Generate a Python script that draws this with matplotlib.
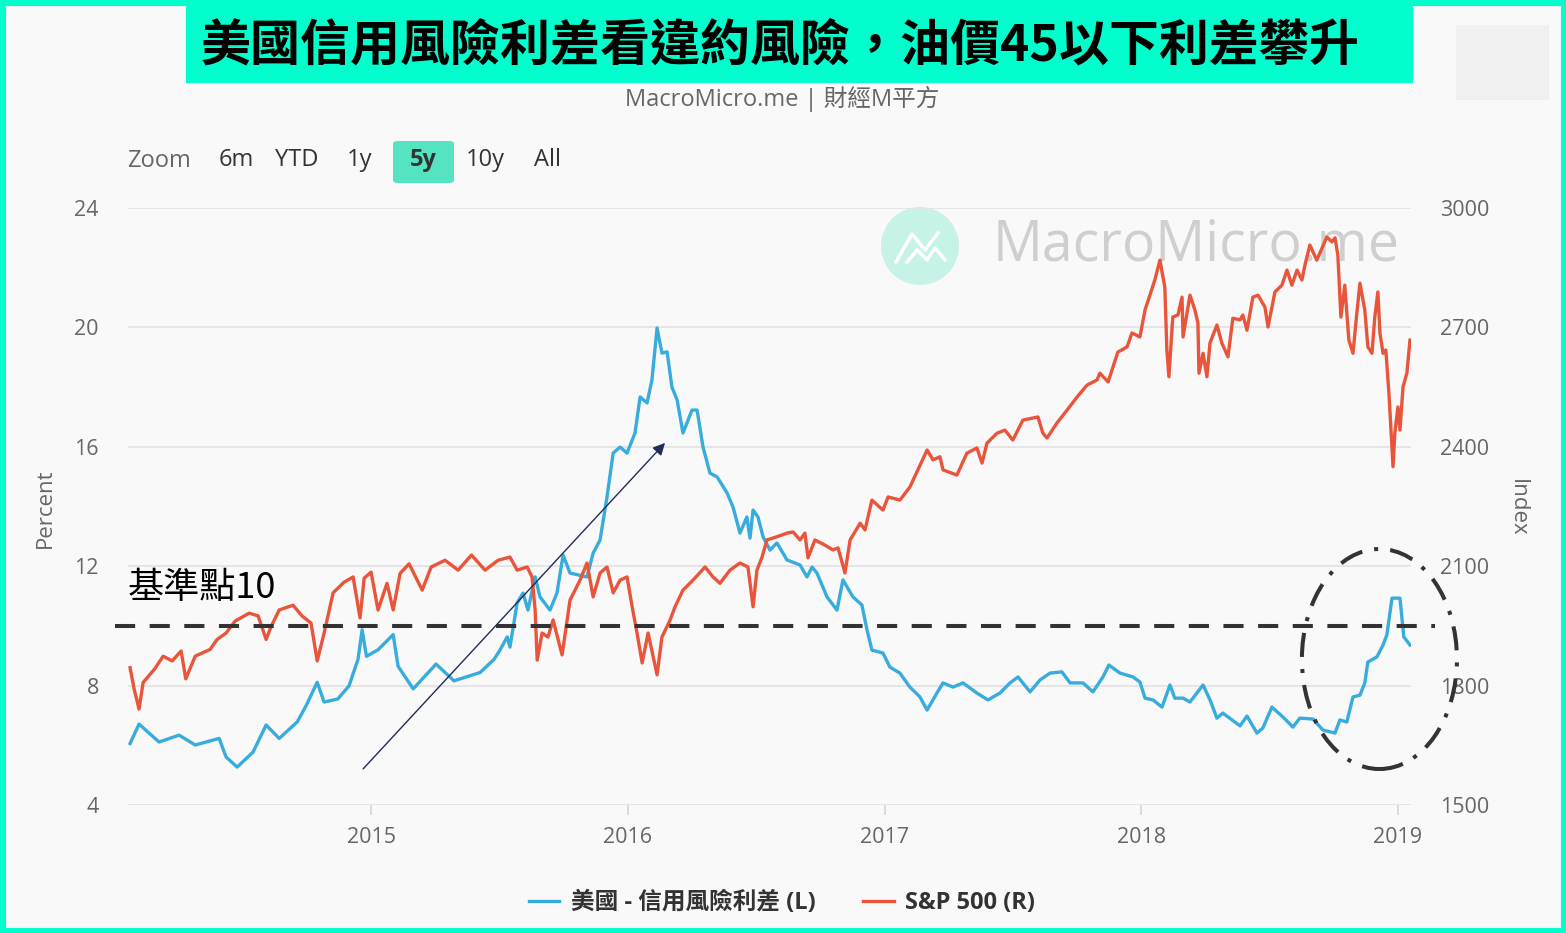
import matplotlib
matplotlib.use('Agg')
import matplotlib.pyplot as plt
from matplotlib.patches import Rectangle, FancyBboxPatch, Ellipse
from matplotlib.lines import Line2D

plt.rcParams['font.family'] = ['Open Sans', 'Noto Sans CJK TC', 'DejaVu Sans']

# US credit risk spread (left axis, percent), x in decimal years
spread_t = [2014.061, 2014.096, 2014.174, 2014.252, 2014.315, 2014.408, 2014.435, 2014.478,
            2014.540, 2014.591, 2014.642, 2014.712, 2014.747, 2014.790, 2014.817, 2014.870,
            2014.914, 2014.949, 2014.965, 2014.982, 2015.027, 2015.086, 2015.105, 2015.164,
            2015.253, 2015.323, 2015.425, 2015.479, 2015.502, 2015.530, 2015.541, 2015.569,
            2015.592, 2015.611, 2015.639, 2015.658, 2015.697, 2015.724, 2015.748, 2015.775,
            2015.841, 2015.865, 2015.892, 2015.919, 2015.943, 2015.970, 2015.997, 2016.028,
            2016.048, 2016.075, 2016.094, 2016.114, 2016.133, 2016.153, 2016.172, 2016.192,
            2016.215, 2016.250, 2016.270, 2016.293, 2016.320, 2016.348, 2016.387, 2016.410,
            2016.437, 2016.464, 2016.476, 2016.488, 2016.507, 2016.527, 2016.554, 2016.581,
            2016.620, 2016.671, 2016.698, 2016.718, 2016.737, 2016.776, 2016.815, 2016.838,
            2016.877, 2016.912, 2016.932, 2016.951, 2016.994, 2017.021, 2017.060, 2017.099,
            2017.138, 2017.166, 2017.204, 2017.228, 2017.267, 2017.306, 2017.360, 2017.403,
            2017.450, 2017.489, 2017.520, 2017.567, 2017.606, 2017.645, 2017.691, 2017.723,
            2017.773, 2017.812, 2017.851, 2017.874, 2017.917, 2017.968, 2017.995, 2018.015,
            2018.046, 2018.081, 2018.112, 2018.131, 2018.163, 2018.190, 2018.241, 2018.268,
            2018.295, 2018.318, 2018.385, 2018.412, 2018.451, 2018.474, 2018.509, 2018.552,
            2018.591, 2018.618, 2018.669, 2018.708, 2018.755, 2018.774, 2018.801, 2018.825,
            2018.852, 2018.871, 2018.883, 2018.918, 2018.942, 2018.957, 2018.977, 2018.988,
            2019.008, 2019.023, 2019.047]
spread = [6.06, 6.71, 6.11, 6.34, 6.01, 6.23, 5.61, 5.27,
          5.77, 6.68, 6.23, 6.78, 7.33, 8.11, 7.45, 7.55,
          7.99, 8.88, 9.87, 8.98, 9.20, 9.71, 8.65, 7.89,
          8.72, 8.16, 8.44, 8.88, 9.19, 9.63, 9.29, 10.77,
          11.10, 10.53, 11.64, 10.97, 10.53, 11.10, 12.37, 11.77,
          11.64, 12.44, 12.88, 14.32, 15.79, 15.99, 15.79, 16.46,
          17.67, 17.47, 18.24, 19.98, 19.14, 19.18, 18.00, 17.57,
          16.46, 17.23, 17.23, 15.99, 15.12, 14.99, 14.45, 13.98,
          13.11, 13.65, 12.94, 13.88, 13.65, 12.98, 12.54, 12.78,
          12.21, 12.04, 11.64, 11.97, 11.77, 10.97, 10.53, 11.54,
          10.97, 10.70, 9.86, 9.19, 9.09, 8.62, 8.42, 7.95,
          7.62, 7.18, 7.75, 8.09, 7.95, 8.09, 7.75, 7.52,
          7.75, 8.09, 8.29, 7.79, 8.19, 8.42, 8.46, 8.09,
          8.09, 7.79, 8.29, 8.69, 8.42, 8.29, 8.12, 7.58,
          7.52, 7.28, 8.02, 7.58, 7.58, 7.45, 8.02, 7.52,
          6.91, 7.08, 6.65, 6.98, 6.41, 6.58, 7.28, 6.95,
          6.61, 6.91, 6.88, 6.51, 6.41, 6.85, 6.78, 7.62,
          7.68, 8.09, 8.79, 8.96, 9.36, 9.70, 10.93, 10.93,
          10.93, 9.63, 9.36]

# S&P 500 (right axis, index)
spx_t = [2014.061, 2014.077, 2014.096, 2014.112, 2014.157, 2014.190, 2014.225, 2014.260,
         2014.278, 2014.315, 2014.373, 2014.400, 2014.435, 2014.470, 2014.525, 2014.560,
         2014.591, 2014.611, 2014.642, 2014.696, 2014.731, 2014.766, 2014.790, 2014.817,
         2014.852, 2014.895, 2014.930, 2014.957, 2014.973, 2015.000, 2015.027, 2015.062,
         2015.086, 2015.113, 2015.148, 2015.199, 2015.234, 2015.288, 2015.339, 2015.391,
         2015.444, 2015.495, 2015.541, 2015.569, 2015.608, 2015.627, 2015.639, 2015.647,
         2015.666, 2015.689, 2015.709, 2015.744, 2015.775, 2015.814, 2015.841, 2015.865,
         2015.892, 2015.919, 2015.943, 2015.970, 2015.997, 2016.017, 2016.036, 2016.056,
         2016.079, 2016.114, 2016.133, 2016.165, 2016.184, 2016.215, 2016.254, 2016.301,
         2016.332, 2016.359, 2016.398, 2016.437, 2016.468, 2016.488, 2016.503, 2016.523,
         2016.542, 2016.581, 2016.620, 2016.644, 2016.671, 2016.690, 2016.702, 2016.729,
         2016.768, 2016.799, 2016.819, 2016.846, 2016.866, 2016.905, 2016.924, 2016.951,
         2016.994, 2017.014, 2017.060, 2017.099, 2017.130, 2017.166, 2017.189, 2017.216,
         2017.228, 2017.282, 2017.321, 2017.360, 2017.380, 2017.399, 2017.438, 2017.469,
         2017.500, 2017.539, 2017.598, 2017.617, 2017.633, 2017.672, 2017.711, 2017.750,
         2017.789, 2017.828, 2017.839, 2017.871, 2017.909, 2017.945, 2017.964, 2017.995,
         2018.015, 2018.034, 2018.053, 2018.073, 2018.092, 2018.100, 2018.108, 2018.123,
         2018.143, 2018.159, 2018.163, 2018.190, 2018.209, 2018.221, 2018.225, 2018.241,
         2018.256, 2018.268, 2018.295, 2018.314, 2018.338, 2018.357, 2018.385, 2018.396,
         2018.412, 2018.435, 2018.455, 2018.482, 2018.494, 2018.521, 2018.548, 2018.568,
         2018.587, 2018.607, 2018.626, 2018.638, 2018.657, 2018.684, 2018.704, 2018.723,
         2018.743, 2018.755, 2018.766, 2018.778, 2018.793, 2018.809, 2018.825, 2018.840,
         2018.852, 2018.871, 2018.883, 2018.899, 2018.910, 2018.922, 2018.930, 2018.942,
         2018.953, 2018.965, 2018.981, 2018.988, 2019.000, 2019.008, 2019.020, 2019.035,
         2019.047]
spx = [1845, 1791, 1741, 1808, 1842, 1874, 1862, 1887,
       1817, 1874, 1891, 1916, 1932, 1962, 1982, 1975,
       1916, 1949, 1990, 2002, 1975, 1957, 1862, 1932,
       2033, 2060, 2073, 1970, 2070, 2085, 1990, 2057,
       1990, 2082, 2106, 2040, 2098, 2115, 2090, 2128,
       2090, 2115, 2123, 2090, 2098, 2073, 1990, 1864,
       1932, 1922, 1965, 1877, 2015, 2065, 2108, 2023,
       2083, 2098, 2033, 2065, 2073, 1998, 1932, 1857,
       1932, 1827, 1922, 1965, 1998, 2040, 2065, 2098,
       2073, 2057, 2090, 2108, 2098, 1998, 2090, 2123,
       2166, 2174, 2183, 2186, 2166, 2183, 2121, 2166,
       2153, 2141, 2146, 2083, 2166, 2208, 2191, 2266,
       2241, 2274, 2266, 2299, 2342, 2392, 2367, 2375,
       2342, 2329, 2384, 2397, 2359, 2409, 2434, 2442,
       2417, 2467, 2475, 2434, 2422, 2460, 2492, 2525,
       2555, 2568, 2585, 2563, 2638, 2651, 2686, 2676,
       2744, 2781, 2819, 2869, 2801, 2643, 2576, 2726,
       2731, 2776, 2676, 2781, 2744, 2711, 2585, 2635,
       2576, 2661, 2706, 2661, 2626, 2723, 2719, 2731,
       2693, 2776, 2781, 2751, 2701, 2789, 2806, 2844,
       2806, 2844, 2819, 2857, 2907, 2869, 2899, 2927,
       2915, 2925, 2882, 2726, 2806, 2668, 2635, 2736,
       2811, 2744, 2651, 2635, 2726, 2789, 2686, 2635,
       2643, 2535, 2350, 2434, 2500, 2442, 2551, 2585,
       2668]

years = [2015, 2016, 2017, 2018, 2019]
left_ticks = [4, 8, 12, 16, 20, 24]
right_ticks = [1500, 1800, 2100, 2400, 2700, 3000]
zoom_labels = ['6m', 'YTD', '1y', '5y', '10y', 'All']
benchmark = 10

title = '美國信用風險利差看違約風險，油價45以下利差攀升'
subtitle = 'MacroMicro.me | 財經M平方'
series_names = ['美國 - 信用風險利差 (L)', 'S&P 500 (R)']

BLUE = '#38acdc'
RED = '#e9553a'
CYAN = '#00ffcc'
W, H = 1566, 933


def fx(px):
    return px / W


def fy(py):
    return 1 - py / H


fig = plt.figure(figsize=(W / 100, H / 100), dpi=100, facecolor='#f9f9f9')
ax = fig.add_axes([fx(128), fy(805), fx(1411) - fx(128), fy(208) - fy(805)])
ax.set_facecolor('#f9f9f9')
ax2 = ax.twinx()

# watermark
ax.add_patch(Ellipse((fx(920), fy(246)), 78 / W, 78 / H, transform=fig.transFigure,
                     fc='#c6f2e7', ec='none', zorder=0.5, clip_on=False))
ax.add_line(Line2D([fx(p) for p in (896, 912, 925, 938)], [fy(p) for p in (262, 234, 250, 233)],
                   transform=fig.transFigure, color='white', lw=2.5, zorder=0.6))
ax.add_line(Line2D([fx(p) for p in (907, 917, 927, 935, 945)], [fy(p) for p in (262, 250, 260, 248, 260)],
                   transform=fig.transFigure, color='white', lw=2.5, zorder=0.6))
ax.text(fx(993), fy(246), 'MacroMicro.me', transform=fig.transFigure, fontsize=40,
        color='#cfcfcf', va='center', ha='left', zorder=0.5)

ax.plot(spread_t, spread, color=BLUE, lw=2.4, zorder=2)
ax2.plot(spx_t, spx, color=RED, lw=2.4, zorder=2)

ax.set_xlim(2014.053, 2019.051)
ax.set_ylim(4, 24)
ax2.set_ylim(1500, 3000)
ax.set_xticks(years)
ax.set_xticklabels([str(y) for y in years])
ax.set_yticks(left_ticks)
ax2.set_yticks(right_ticks)
ax.grid(axis='y', color='#e3e3e3', lw=1.3)
ax.set_axisbelow(True)
for a in (ax, ax2):
    for s in a.spines.values():
        s.set_visible(False)
ax.tick_params(axis='y', length=0, pad=21, labelsize=15.5, labelcolor='#666666')
ax2.tick_params(axis='y', length=0, pad=21, labelsize=15.5, labelcolor='#666666')
ax.tick_params(axis='x', length=7, width=1.2, color='#d6d6d6', pad=9, labelsize=15.5,
               labelcolor='#666666')

# benchmark line, annotation, arrow, ellipse (drawn on top)
ax2.plot([2014.003, 2019.144], [benchmark, benchmark], transform=ax.transData,
         color='#333333', lw=2.9, ls=(0, (5, 3.6)), clip_on=False, zorder=5)
ax2.text(2014.053, 11.27, '基準點' + str(benchmark), transform=ax.transData, fontsize=26,
         family=['Noto Sans CJK TC'], color='black', va='center', ha='left', zorder=6)
ax2.annotate('', xy=(2016.145, 16.13), xytext=(2014.969, 5.21),
             xycoords=ax.transData, textcoords=ax.transData,
             arrowprops=dict(arrowstyle='-|>', color='#1f2d5a', lw=1, mutation_scale=18,
                             shrinkA=0, shrinkB=0), zorder=6)
ax2.add_patch(Ellipse((2018.928, 8.89), 0.604, 7.37, transform=ax.transData, fill=False,
                      ec='#333333', lw=2.9, ls=(0, (6, 3, 1, 3)), clip_on=False, zorder=6))

fig.text(fx(45), fy(508), 'Percent', rotation=90, fontsize=16, color='#666666',
         ha='center', va='center')
fig.text(fx(1517), fy(508), 'Index', rotation=270, fontsize=16, color='#666666',
         ha='center', va='center')

# header
fig.add_artist(Rectangle((fx(186), fy(83)), fx(1413) - fx(186), fy(6) - fy(83),
                         transform=fig.transFigure, fc=CYAN, ec='none'))
fig.text(fx(780), fy(46), title, fontsize=36, weight='bold', family=['Noto Sans CJK TC'],
         color='black', ha='center', va='center')
fig.text(fx(782), fy(99), subtitle, fontsize=17, color='#666666', ha='center', va='center')
fig.add_artist(Rectangle((fx(1456), fy(100)), fx(1549) - fx(1456), fy(25) - fy(100),
                         transform=fig.transFigure, fc='#f0f0f0', ec='none'))

# zoom buttons
fig.add_artist(FancyBboxPatch((fx(393), fy(183)), fx(454) - fx(393), fy(141) - fy(183),
                              boxstyle='round,pad=0,rounding_size=0.003',
                              transform=fig.transFigure, fc='#55e3c2', ec='none'))
fig.text(fx(127), fy(161), 'Zoom', fontsize=17, color='#666666', ha='left', va='center')
for lab, cx in zip(zoom_labels, [236, 297, 360, 423, 485, 547]):
    fig.text(fx(cx), fy(160), lab, fontsize=17, color='#333333', ha='center', va='center',
             weight='bold' if lab == '5y' else 'normal')

# legend
handles = [Line2D([], [], color=BLUE, lw=2.4), Line2D([], [], color=RED, lw=2.4)]
fig.legend(handles, series_names, loc='center', bbox_to_anchor=(fx(782), fy(903)), ncol=2,
           frameon=False, prop=dict(weight='bold', size=17), labelcolor='#333333',
           handlelength=1.3, handletextpad=0.5, columnspacing=2.0)

# outer border
fig.add_artist(Rectangle((0, 0), 1, 1, transform=fig.transFigure, fill=False, ec=CYAN, lw=8))

fig.savefig('out.png', dpi=100, facecolor=fig.get_facecolor())
